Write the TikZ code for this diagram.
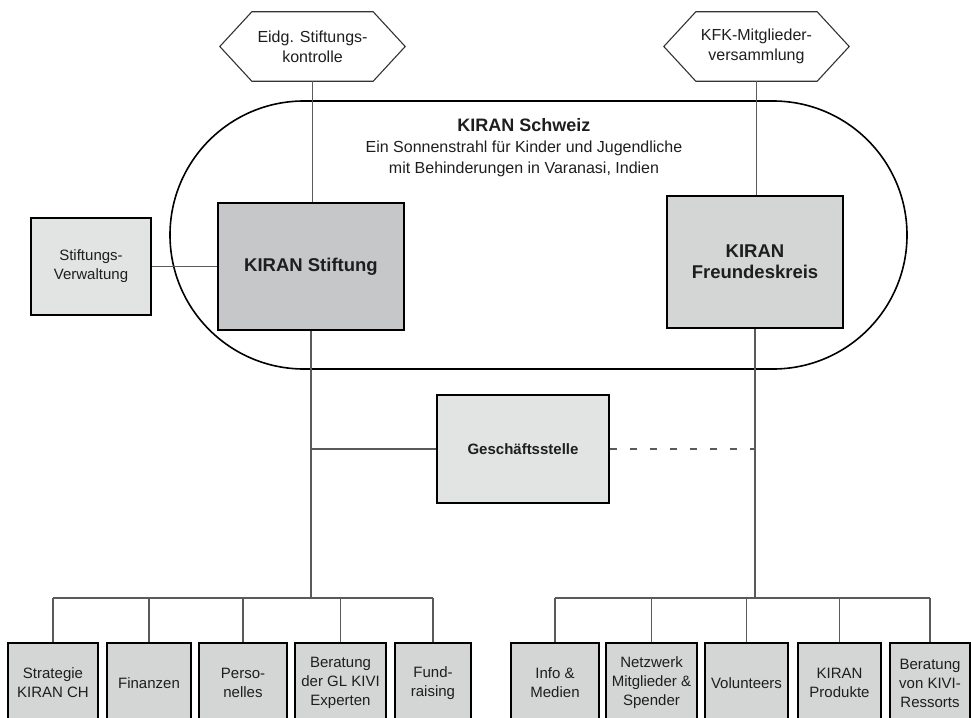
\documentclass[tikz,border=0pt]{standalone}
\usepackage{fontspec}
\setmainfont{Liberation Sans}
\usetikzlibrary{shapes.misc}
\definecolor{linegray}{HTML}{5A5A5A}
\definecolor{fillmain}{HTML}{C6C7C8}
\definecolor{fillfriends}{HTML}{D4D5D5}
\definecolor{filladmin}{HTML}{E2E3E3}
\definecolor{fillunit}{HTML}{D4D5D5}
\definecolor{textgray}{HTML}{1E1E1E}

\begin{document}
\begin{tikzpicture}[
  x=1pt, y=-1pt,
  font=\fontsize{15}{19}\selectfont,
  text=textgray,
  orgbox/.style={draw=black, line width=1.6pt, align=center, inner sep=1pt},
  unitbox/.style={orgbox, fill=fillunit, minimum height=80pt},
  hexbox/.style={align=center, minimum width=185pt, minimum height=69pt, inner sep=0pt, font=\fontsize{16}{20}\selectfont},
  hexline/.style={draw=black!80, line width=1.1pt},
  link/.style={draw=linegray, line width=1.1pt}
]
\useasboundingbox (0,0) rectangle (971,717);

% umbrella
\node[rounded rectangle, draw=black, line width=1.6pt, minimum width=737pt, minimum height=268pt, inner sep=0pt] (schweiz) at (538.5,235) {};
\node[align=center, font=\fontsize{16}{21}\selectfont] (titel) at (524,148) {\textbf{\fontsize{18}{21}\selectfont KIRAN Schweiz}\\Ein Sonnenstrahl für Kinder und Jugendliche\\mit Behinderungen in Varanasi, Indien};

% supervision
\node[hexbox] (kontrolle) at (312.5,46.5) {Eidg. Stiftungs-\\kontrolle};
\node[hexbox] (versammlung) at (756.5,46.5) {KFK-Mitglieder-\\versammlung};
\foreach \h in {kontrolle,versammlung}
  \draw[hexline] (\h.west) -- ([xshift=32pt]\h.north west) -- ([xshift=-32pt]\h.north east) -- (\h.east) -- ([xshift=-32pt]\h.south east) -- ([xshift=32pt]\h.south west) -- cycle;

% main boxes
\node[orgbox, fill=filladmin, minimum width=120pt, minimum height=97pt] (verwaltung) at (91,266.5) {Stiftungs-\\Verwaltung};
\node[orgbox, fill=fillmain, minimum width=186pt, minimum height=127pt, font=\bfseries\fontsize{18.5}{21}\selectfont] (stiftung) at (311,266.5) {KIRAN Stiftung};
\node[orgbox, fill=fillfriends, minimum width=176pt, minimum height=132pt, font=\bfseries\fontsize{18.5}{21}\selectfont] (freundeskreis) at (755,262) {KIRAN\\Freundeskreis};
\node[orgbox, fill=filladmin, minimum width=172pt, minimum height=108pt, font=\bfseries\fontsize{15}{19}\selectfont] (geschaeft) at (523,449) {Geschäftsstelle};

% units
\node[unitbox, minimum width=90pt] (strategie) at (53,683) {Strategie\\KIRAN CH};
\node[unitbox, minimum width=84pt] (finanzen) at (149,683) {Finanzen};
\node[unitbox, minimum width=88pt] (personelles) at (243,683) {Perso-\\nelles};
\node[unitbox, minimum width=91pt] (beratunggl) at (340.5,683) {Beratung\\der GL KIVI\\Experten};
\node[unitbox, minimum width=76pt] (fundraising) at (433,683) {Fund-\\raising};
\node[unitbox, minimum width=88pt] (medien) at (555,683) {Info \&\\Medien};
\node[unitbox, minimum width=91pt] (netzwerk) at (651.5,683) {Netzwerk\\Mitglieder \&\\Spender};
\node[unitbox, minimum width=83pt] (volunteers) at (746.5,683) {Volunteers};
\node[unitbox, minimum width=83pt] (produkte) at (839.5,683) {KIRAN\\Produkte};
\node[unitbox, minimum width=80pt] (ressorts) at (930,683) {Beratung\\von KIVI-\\Ressorts};

\coordinate (busl) at (311,598);
\coordinate (busr) at (755,598);

% connectors
\draw[link] (kontrolle.south) -- (kontrolle.south |- stiftung.north);
\draw[link] (versammlung.south) -- (versammlung.south |- freundeskreis.north);
\draw[link] (verwaltung.east) -- (verwaltung.east -| stiftung.west);
\draw[link] (stiftung.south) -- (busl);
\draw[link] (freundeskreis.south) -- (busr);
\draw[link] (geschaeft.west) -- (geschaeft.west -| stiftung.south);
\draw[link, dash pattern=on 7pt off 13pt] (geschaeft.east) -- (geschaeft.east -| freundeskreis.south);
\draw[link] (strategie.north |- busl) -- (fundraising.north |- busl);
\draw[link] (medien.north |- busr) -- (ressorts.north |- busr);
\foreach \u in {strategie,finanzen,personelles,beratunggl,fundraising}
  \draw[link] (\u.north |- busl) -- (\u.north);
\foreach \u in {medien,netzwerk,volunteers,produkte,ressorts}
  \draw[link] (\u.north |- busr) -- (\u.north);
\end{tikzpicture}
\end{document}
